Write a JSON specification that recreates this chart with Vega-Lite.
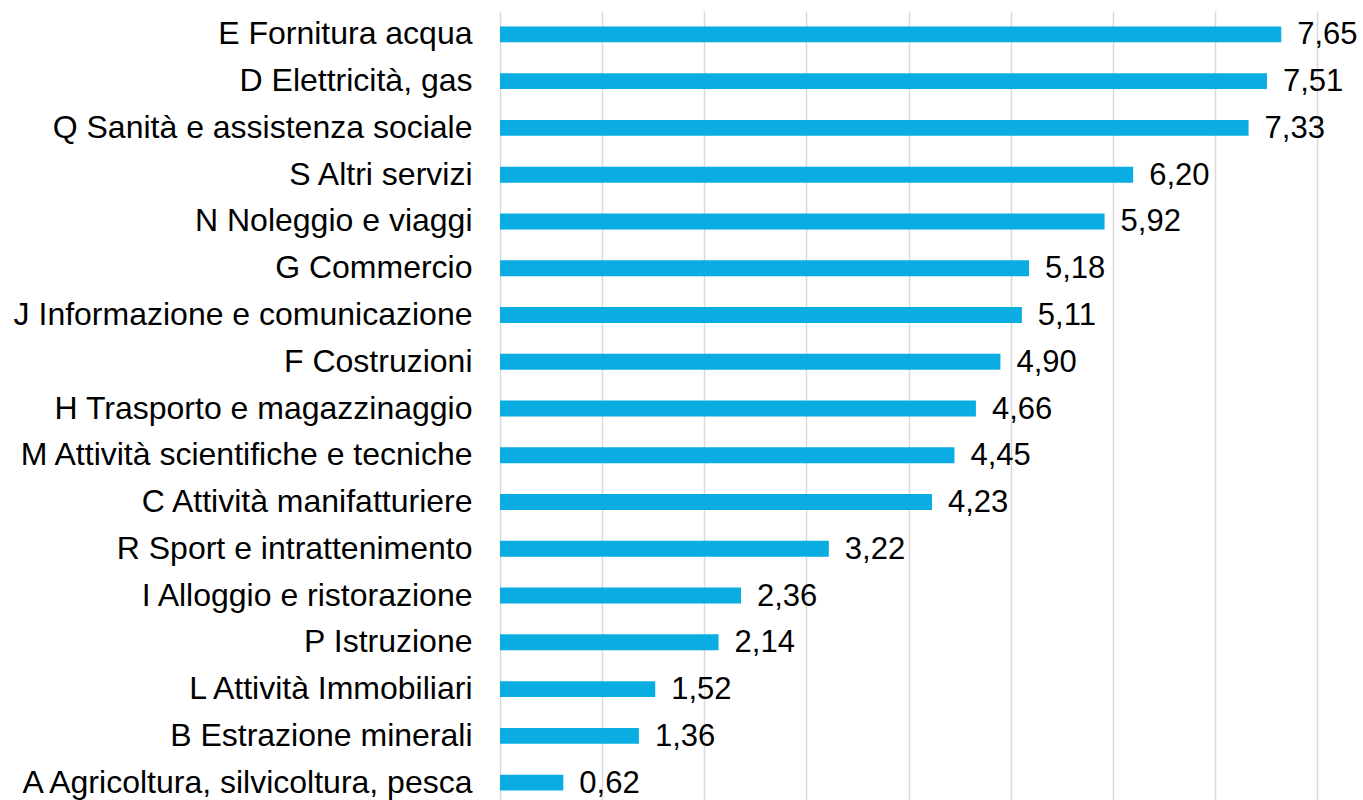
{
  "$schema": "https://vega.github.io/schema/vega-lite/v6.json",
  "width": 817,
  "height": 795,
  "autosize": {"type": "none"},
  "padding": {"left": 500, "top": 11, "right": 46, "bottom": 0},
  "background": "white",
  "config": {
    "locale": {"number": {"decimal": ",", "thousands": ".", "grouping": [3], "currency": ["€", ""]}},
    "view": {"stroke": null},
    "font": "Liberation Sans"
  },
  "data": {
    "values": [
      {"settore": "E Fornitura acqua", "valore": 7.65},
      {"settore": "D Elettricità, gas", "valore": 7.51},
      {"settore": "Q Sanità e assistenza sociale", "valore": 7.33},
      {"settore": "S Altri servizi", "valore": 6.20},
      {"settore": "N Noleggio e viaggi", "valore": 5.92},
      {"settore": "G Commercio", "valore": 5.18},
      {"settore": "J Informazione e comunicazione", "valore": 5.11},
      {"settore": "F Costruzioni", "valore": 4.90},
      {"settore": "H Trasporto e magazzinaggio", "valore": 4.66},
      {"settore": "M Attività scientifiche e tecniche", "valore": 4.45},
      {"settore": "C Attività manifatturiere", "valore": 4.23},
      {"settore": "R Sport e intrattenimento", "valore": 3.22},
      {"settore": "I Alloggio e ristorazione", "valore": 2.36},
      {"settore": "P Istruzione", "valore": 2.14},
      {"settore": "L Attività Immobiliari", "valore": 1.52},
      {"settore": "B Estrazione minerali", "valore": 1.36},
      {"settore": "A Agricoltura, silvicoltura, pesca", "valore": 0.62}
    ]
  },
  "encoding": {
    "y": {
      "field": "settore",
      "type": "nominal",
      "sort": null,
      "scale": {"paddingInner": 0.66, "paddingOuter": 0.33},
      "axis": {
        "title": null,
        "ticks": false,
        "domain": false,
        "labelFontSize": 32,
        "labelColor": "#000000",
        "labelPadding": 28,
        "labelFont": "Liberation Sans",
        "labelLimit": 600
      }
    },
    "x": {
      "field": "valore",
      "type": "quantitative",
      "scale": {"domain": [0, 8], "nice": false},
      "axis": {
        "title": null,
        "labels": false,
        "ticks": false,
        "domain": false,
        "values": [0, 1, 2, 3, 4, 5, 6, 7, 8],
        "grid": true,
        "gridColor": "#D9D9D9",
        "gridWidth": 1.5
      }
    }
  },
  "layer": [
    {"mark": {"type": "bar", "color": "#09ADE2"}},
    {
      "mark": {"type": "text", "align": "left", "baseline": "middle", "dx": 16, "dy": 1, "fontSize": 31, "color": "#000000", "font": "Liberation Sans"},
      "encoding": {"text": {"field": "valore", "type": "quantitative", "format": ".2f"}}
    }
  ]
}
